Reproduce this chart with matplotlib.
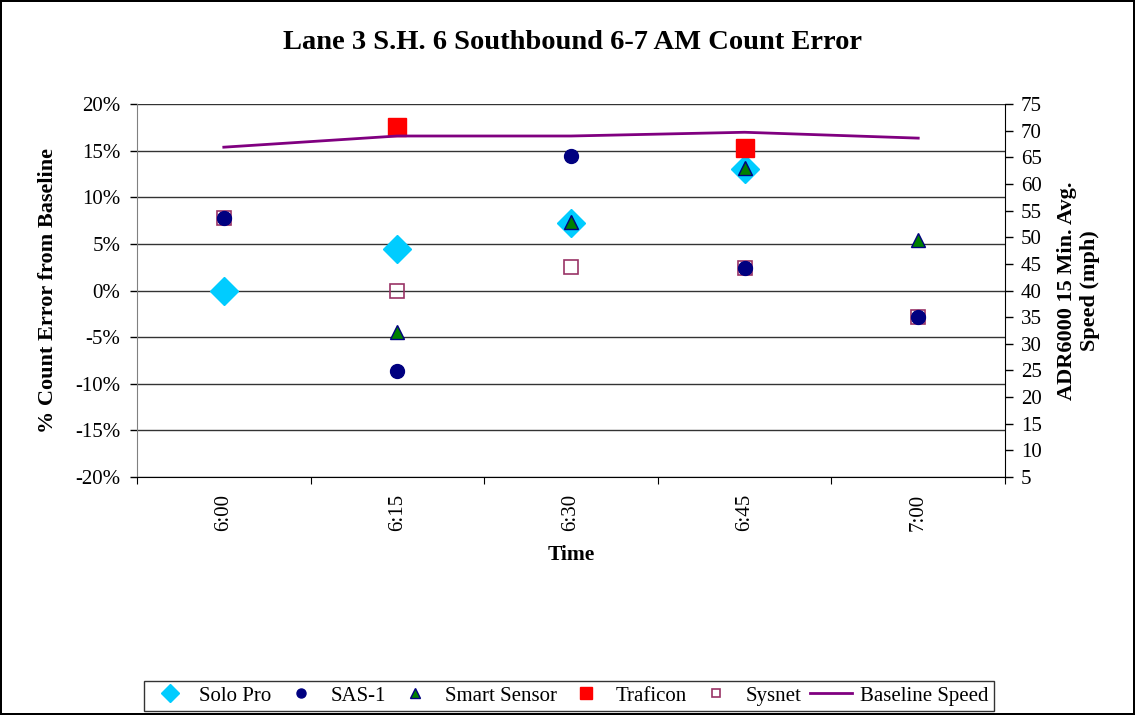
import numpy as np
import matplotlib
matplotlib.use('Agg')
from matplotlib import pyplot as plt
from matplotlib.ticker import FixedLocator

plt.rcParams['font.family'] = ['Liberation Serif', 'DejaVu Serif']

times = ['6:00', '6:15', '6:30', '6:45', '7:00']
solo_pro = [0.0, 4.4, 7.2, 13.0, np.nan]
sas1 = [7.8, -8.6, 14.4, 2.4, -2.8]
smart_sensor = [np.nan, -4.4, 7.3, 13.1, 5.4]
traficon = [np.nan, 17.5, np.nan, 15.3, np.nan]
sysnet = [7.8, 0.0, 2.5, 2.4, -2.8]
baseline_speed = [66.9, 69.0, 69.0, 69.7, 68.6]

x = np.arange(len(times))

fig = plt.figure(figsize=(11.35, 7.15), dpi=100)
fig.patch.set_edgecolor('black')
fig.patch.set_linewidth(1.5)
ax = fig.add_axes([0.1207, 0.3329, 0.7648, 0.5216])
ax2 = ax.twinx()

h1, = ax.plot(x, solo_pro, ls='none', marker='D', ms=14, color='#00CCFF', mec='#00CCFF', label='Solo Pro', zorder=3)
h2, = ax.plot(x, sas1, ls='none', marker='o', ms=10, color='#000080', mec='#000080', label='SAS-1', zorder=4)
h3, = ax.plot(x, smart_sensor, ls='none', marker='^', ms=10, color='#008000', mec='#000080', mew=1, label='Smart Sensor', zorder=5)
h4, = ax.plot(x, traficon, ls='none', marker='s', ms=13, color='#FF0000', mec='#FF0000', label='Traficon', zorder=6)
h5, = ax.plot(x, sysnet, ls='none', marker='s', ms=9.5, mfc='none', mec='#993366', mew=1.2, label='Sysnet', zorder=3.5)
h6, = ax2.plot(x, baseline_speed, color='#800080', lw=2, label='Baseline Speed')

ax.set_xlim(-0.5, 4.5)
ax.set_ylim(-20, 20)
ax2.set_ylim(5, 75)
ax.set_yticks(np.arange(-20, 21, 5))
ax.set_yticklabels([f'{v}%' for v in range(-20, 21, 5)], fontsize=15)
ax2.set_yticks(np.arange(5, 76, 5))
ax2.tick_params(axis='y', labelsize=15, length=5.5, direction='out', width=1, pad=6)
ax.tick_params(axis='y', length=5, direction='out', width=1, pad=7)
ax.grid(axis='y', color='#333333', lw=1)
ax.set_axisbelow(True)

ax.xaxis.set_major_locator(FixedLocator(np.arange(-0.5, 5, 1)))
ax.xaxis.set_minor_locator(FixedLocator(x))
ax.set_xticklabels([], minor=False)
ax.set_xticklabels(times, minor=True, rotation=90, fontsize=15)
ax.tick_params(axis='x', which='major', length=5, direction='out')
ax.tick_params(axis='x', which='minor', length=0, pad=12)

for a in (ax, ax2):
    a.spines['top'].set_visible(False)
    a.patch.set_visible(False)
ax.spines['left'].set_color('#808080')
ax.spines['right'].set_visible(False)
ax2.spines['left'].set_visible(False)
ax2.spines['bottom'].set_visible(False)

ax.set_xlabel('Time', fontsize=15.5, fontweight='bold', labelpad=10)
ax.set_ylabel('% Count Error from Baseline', fontsize=16, fontweight='bold', labelpad=12)
ax2.set_ylabel('ADR6000 15 Min. Avg.\nSpeed (mph)', fontsize=16, fontweight='bold', labelpad=11,
               linespacing=1.15)

fig.suptitle('Lane 3 S.H. 6 Southbound 6-7 AM Count Error', fontsize=20.5, fontweight='bold',
             x=0.504, y=0.958)

leg = fig.legend(handles=[h1, h2, h3, h4, h5, h6], loc='center', bbox_to_anchor=(0.5013, 0.0266),
                 ncol=6, fontsize=15, frameon=True, fancybox=False, edgecolor='black',
                 handlelength=2.0, handletextpad=0.4, columnspacing=0.42, borderpad=0.25,
                 borderaxespad=0, markerscale=0.65)
leg.get_frame().set_linewidth(1)

fig.savefig('out.png', dpi=100)
